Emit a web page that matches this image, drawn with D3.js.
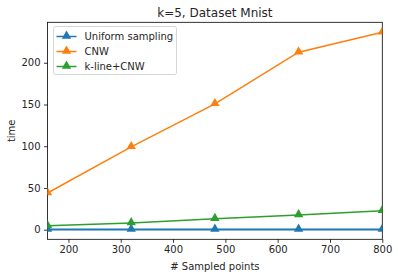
<!DOCTYPE html>
<html>
<head>
<meta charset="utf-8">
<script src="https://cdn.jsdelivr.net/npm/d3@7"></script>
<style>
  body { margin: 0; background: #fff; }
  text { font-family: "DejaVu Sans", sans-serif; fill: #262626; }
</style>
</head>
<body>
<div id="chart"></div>
<script>
// data
var sampledPoints = [160, 320, 480, 640, 800];
var uniformTime = [0.3, 0.3, 0.3, 0.3, 0.3];
var cnwTime = [44, 99.2, 150.8, 212.7, 236.5];
var klineTime = [4.8, 8, 13.2, 17.6, 22.8];
var xTicks = [200, 300, 400, 500, 600, 700, 800];
var yTicks = [0, 50, 100, 150, 200];

var seriesNames = ["Uniform sampling", "CNW", "k-line+CNW"];
var seriesColors = ["#1f77b4", "#ff7f0e", "#2ca02c"];

var width = 398, height = 278;
var plot = {left: 47.5, right: 382.3, top: 22.3, bottom: 239.3};

var svg = d3.select("#chart").append("svg")
    .attr("width", width)
    .attr("height", height);

var x = d3.scaleLinear().domain([160, 800]).range([plot.left, plot.right]);
var y = d3.scaleLinear().domain([-11.5, 248.5]).range([plot.bottom, plot.top]);

// axes
var xAxis = svg.append("g")
    .attr("transform", "translate(0," + plot.bottom + ")")
    .call(d3.axisBottom(x).tickValues(xTicks).tickSize(3.5).tickPadding(3.5).tickSizeOuter(0));
var yAxis = svg.append("g")
    .attr("transform", "translate(" + plot.left + ",0)")
    .call(d3.axisLeft(y).tickValues(yTicks).tickSize(3.5).tickPadding(3.5).tickSizeOuter(0));

[xAxis, yAxis].forEach(function (ax) {
    ax.select(".domain").remove();
    ax.selectAll("line").attr("stroke", "#000").attr("stroke-width", 0.8);
    ax.selectAll("text").style("font-size", "10px").attr("fill", "#262626");
});

// frame
svg.append("rect")
    .attr("x", plot.left).attr("y", plot.top)
    .attr("width", plot.right - plot.left).attr("height", plot.bottom - plot.top)
    .attr("fill", "none").attr("stroke", "#000").attr("stroke-width", 0.8);

svg.append("clipPath").attr("id", "clip")
    .append("rect")
    .attr("x", plot.left).attr("y", plot.top)
    .attr("width", plot.right - plot.left).attr("height", plot.bottom - plot.top);

var allSeries = [uniformTime, cnwTime, klineTime];
var line = d3.line()
    .x(function (d, i) { return x(sampledPoints[i]); })
    .y(function (d) { return y(d); });
var tri = d3.symbol().type(d3.symbolTriangle).size(38);

var marks = svg.append("g").attr("clip-path", "url(#clip)");
allSeries.forEach(function (vals, s) {
    var g = marks.append("g");
    g.append("path")
        .datum(vals)
        .attr("d", line)
        .attr("fill", "none")
        .attr("stroke", seriesColors[s])
        .attr("stroke-width", s === 0 ? 2 : 1.5);
    g.selectAll("path.m")
        .data(vals)
        .join("path")
        .attr("class", "m")
        .attr("d", tri)
        .attr("transform", function (d, i) {
            return "translate(" + x(sampledPoints[i]) + "," + (y(d) - 0.5) + ")";
        })
        .attr("fill", seriesColors[s]);
});

// titles
svg.append("text")
    .attr("x", (plot.left + plot.right) / 2).attr("y", plot.top - 5)
    .attr("text-anchor", "middle")
    .style("font-size", "12px")
    .text("k=5, Dataset Mnist");
svg.append("text")
    .attr("x", (plot.left + plot.right) / 2).attr("y", 270)
    .attr("text-anchor", "middle")
    .style("font-size", "10px")
    .text("# Sampled points");
svg.append("text")
    .attr("transform", "translate(14.5," + ((plot.top + plot.bottom) / 2) + ") rotate(-90)")
    .attr("text-anchor", "middle")
    .style("font-size", "10px")
    .text("time");

// legend
var legend = svg.append("g").attr("transform", "translate(53.5,26.5)");
legend.append("rect")
    .attr("width", 123).attr("height", 48).attr("rx", 2)
    .attr("fill", "#fff").attr("fill-opacity", 0.8)
    .attr("stroke", "#ccc").attr("stroke-width", 0.8);
seriesNames.forEach(function (name, i) {
    var row = legend.append("g").attr("transform", "translate(0," + (10 + i * 15) + ")");
    row.append("line")
        .attr("x1", 3).attr("x2", 23)
        .attr("stroke", seriesColors[i]).attr("stroke-width", 1.5);
    row.append("path")
        .attr("d", tri)
        .attr("transform", "translate(13,-0.5)")
        .attr("fill", seriesColors[i]);
    row.append("text")
        .attr("x", 31).attr("y", 3.5)
        .style("font-size", "10px")
        .text(name);
});
</script>
</body>
</html>
